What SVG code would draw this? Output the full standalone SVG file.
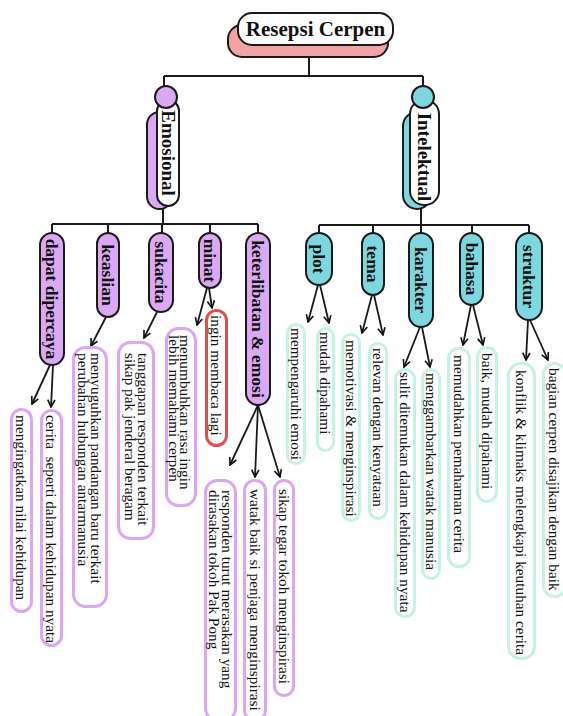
<svg xmlns="http://www.w3.org/2000/svg" width="563" height="716" viewBox="0 0 563 716">
<style>
.conn{fill:none;stroke:#1a1a1a;stroke-width:2}
.arr{fill:none;stroke:#1a1a1a;stroke-width:1.8;marker-end:url(#ah)}
.pp{fill:#DBA8F2;stroke:#1a1a1a;stroke-width:2}
.tp{fill:#7ED7DF;stroke:#1a1a1a;stroke-width:2}
.wp{fill:#ffffff;stroke:#1a1a1a;stroke-width:2}
.lp{fill:#ffffff;stroke:#DCA6F0;stroke-width:3}
.lt{fill:#ffffff;stroke:#C6F1E6;stroke-width:3}
.lr{fill:#ffffff;stroke:#D9524E;stroke-width:3}
.b{font-family:"Liberation Serif",serif;font-weight:bold;font-size:17.5px;fill:#111;text-anchor:middle;dominant-baseline:central}
.h{font-family:"Liberation Serif",serif;font-weight:bold;font-size:19px;fill:#111;text-anchor:middle;dominant-baseline:central}
.t{font-family:"Liberation Serif",serif;font-size:15.3px;fill:#111;dominant-baseline:central}
</style>
<defs>
<marker id="ah" viewBox="0 0 10 10" refX="9" refY="5" markerWidth="9" markerHeight="9" markerUnits="userSpaceOnUse" orient="auto"><path d="M1,1 L9,5 L1,9" fill="none" stroke="#111" stroke-width="1.8"/></marker>
</defs>

<g id="connectors">
<path class="conn" d="M309,57 V76 M164,76 H423 M164,76 V88 M423,76 V88"/>
<path class="conn" d="M163,209 V224 M52,224 H258 M52,224 V233 M108,224 V233 M162,224 V233 M210,224 V233 M258,224 V233"/>
<path class="conn" d="M421,209 V225 M319,225 H529 M319,225 V233 M373,225 V233 M421,225 V233 M472,225 V233 M529,225 V233"/>
<line class="arr" x1="50" y1="365" x2="32" y2="404"/>
<line class="arr" x1="53" y1="365" x2="51" y2="407"/>
<line class="arr" x1="106" y1="317" x2="91" y2="346"/>
<line class="arr" x1="157" y1="312" x2="144" y2="338"/>
<line class="arr" x1="207" y1="288" x2="197" y2="325"/>
<line class="arr" x1="209" y1="288" x2="212" y2="308"/>
<line class="arr" x1="258" y1="405" x2="230" y2="465"/>
<line class="arr" x1="258" y1="405" x2="255" y2="477"/>
<line class="arr" x1="258" y1="405" x2="280" y2="477"/>
<line class="arr" x1="318" y1="285" x2="308" y2="322"/>
<line class="arr" x1="320" y1="285" x2="329" y2="323"/>
<line class="arr" x1="372" y1="295" x2="362" y2="333"/>
<line class="arr" x1="374" y1="295" x2="383" y2="335"/>
<line class="arr" x1="420" y1="327" x2="404" y2="367"/>
<line class="arr" x1="422" y1="327" x2="430" y2="367"/>
<line class="arr" x1="471" y1="305" x2="463" y2="345"/>
<line class="arr" x1="473" y1="305" x2="483" y2="345"/>
<line class="arr" x1="528" y1="320" x2="526" y2="360"/>
<line class="arr" x1="530" y1="320" x2="548" y2="360"/>
</g>

<g id="root">
<rect x="228" y="25" width="160" height="32" rx="14" fill="#F3A3A3" stroke="#1a1a1a" stroke-width="2"/>
<rect x="238" y="13" width="155" height="32" rx="14" class="wp"/>
<text x="315.5" y="29" class="h" style="font-size:21px">Resepsi Cerpen</text>
</g>

<g id="emosional">
<rect x="147" y="112" width="25" height="97" rx="12.5" class="pp"/>
<rect x="157" y="100" width="22" height="106" rx="11" class="wp"/>
<circle cx="166" cy="97" r="11" class="pp"/>
<text class="h" transform="translate(168.5,153) rotate(90)">Emosional</text>
</g>

<g id="intelektual">
<rect x="403" y="112" width="28" height="97" rx="14" class="tp"/>
<rect x="410" y="100" width="29" height="105" rx="14" class="wp"/>
<circle cx="423" cy="97" r="11" class="tp"/>
<text class="h" transform="translate(424.5,157) rotate(90)">Intelektual</text>
</g>

<g id="dapat-dipercaya">
<rect x="40" y="233" width="24" height="132" rx="12" class="pp"/>
<text class="b" transform="translate(52,299) rotate(90)">dapat dipercaya</text>
</g>
<g id="keaslian">
<rect x="97" y="233" width="22" height="84" rx="11" class="pp"/>
<text class="b" transform="translate(108,275) rotate(90)">keaslian</text>
</g>
<g id="sukacita">
<rect x="149" y="233" width="24" height="79" rx="12" class="pp"/>
<text class="b" transform="translate(161,272.5) rotate(90)">sukacita</text>
</g>
<g id="minat">
<rect x="199" y="233" width="22" height="55" rx="11" class="pp"/>
<text class="b" transform="translate(210,260.5) rotate(90)">minat</text>
</g>
<g id="keterlibatan">
<rect x="246" y="233" width="24" height="172" rx="12" class="pp"/>
<text class="b" transform="translate(258,319) rotate(90)">keterlibatan &amp; emosi</text>
</g>

<g id="plot">
<rect x="306" y="233" width="26" height="52" rx="13" class="tp"/>
<text class="b" transform="translate(319,259) rotate(90)">plot</text>
</g>
<g id="tema">
<rect x="362" y="233" width="22" height="62" rx="11" class="tp"/>
<text class="b" transform="translate(373,264) rotate(90)">tema</text>
</g>
<g id="karakter">
<rect x="409" y="233" width="24" height="94" rx="12" class="tp"/>
<text class="b" transform="translate(421,280) rotate(90)">karakter</text>
</g>
<g id="bahasa">
<rect x="460" y="233" width="23" height="72" rx="11.5" class="tp"/>
<text class="b" transform="translate(471.5,269) rotate(90)">bahasa</text>
</g>
<g id="struktur">
<rect x="516" y="233" width="26" height="87" rx="13" class="tp"/>
<text class="b" transform="translate(529,276.5) rotate(90)">struktur</text>
</g>

<g id="leaf-mengingatkan">
<rect x="11.5" y="409.5" width="20" height="202" rx="10" class="lp"/>
<text class="t" transform="translate(21.5,415) rotate(90)">mengingatkan nilai kehidupan</text>
</g>
<g id="leaf-cerita">
<rect x="41.5" y="410.5" width="20" height="235" rx="10" class="lp"/>
<text class="t" transform="translate(51.5,415) rotate(90)" xml:space="preserve">cerita  seperti dalam kehidupan nyata</text>
</g>
<g id="leaf-menyuguhkan">
<rect x="73.5" y="347.5" width="33" height="259" rx="12" class="lp"/>
<text class="t" transform="translate(96.5,353) rotate(90)">menyuguhkan pandangan baru terkait</text>
<text class="t" transform="translate(83.5,353) rotate(90)">perubahan hubungan antarmanusia</text>
</g>
<g id="leaf-tanggapan">
<rect x="118.5" y="342.5" width="35" height="196" rx="12" class="lp"/>
<text class="t" transform="translate(143,353) rotate(90)">tanggapan responden terkait</text>
<text class="t" transform="translate(130.5,353) rotate(90)">sikap pak jenderal beragam</text>
</g>
<g id="leaf-menumbuhkan">
<rect x="166.5" y="328.5" width="29" height="177" rx="12" class="lp"/>
<text class="t" transform="translate(185.5,335) rotate(90)">menumbuhkan rasa ingin</text>
<text class="t" transform="translate(174,335) rotate(90)">lebih memahami cerpen</text>
</g>
<g id="leaf-ingin">
<rect x="206.5" y="310.5" width="20" height="135" rx="10" class="lr"/>
<text class="t" transform="translate(216.5,315) rotate(90)">ingin membaca lagi</text>
</g>
<g id="leaf-responden">
<rect x="205.5" y="480.5" width="30" height="240" rx="12" class="lp"/>
<text class="t" transform="translate(227,490) rotate(90)">responden turut merasakan yang</text>
<text class="t" transform="translate(214.5,490) rotate(90)">dirasakan tokoh Pak Pong</text>
</g>
<g id="leaf-watak">
<rect x="244.5" y="480.5" width="21" height="240" rx="10" class="lp"/>
<text class="t" transform="translate(255,489) rotate(90)">watak baik si penjaga menginspirasi</text>
</g>
<g id="leaf-sikap">
<rect x="274.5" y="480.5" width="19" height="215" rx="9.5" class="lp"/>
<text class="t" transform="translate(284,489) rotate(90)">sikap tegar tokoh menginspirasi</text>
</g>

<g id="leaf-mempengaruhi">
<rect x="287.5" y="324.5" width="17" height="139" rx="8.5" class="lt"/>
<text class="t" transform="translate(296,328) rotate(90)">mempengaruhi emosi</text>
</g>
<g id="leaf-mudah">
<rect x="317.5" y="328.5" width="16" height="122" rx="8" class="lt"/>
<text class="t" transform="translate(325.5,332) rotate(90)">mudah dipahami</text>
</g>
<g id="leaf-memotivasi">
<rect x="342.5" y="334.5" width="17" height="186" rx="8.5" class="lt"/>
<text class="t" transform="translate(351,340) rotate(90)">memotivasi &amp; menginspirasi</text>
</g>
<g id="leaf-relevan">
<rect x="369.5" y="343.5" width="17" height="175" rx="8.5" class="lt"/>
<text class="t" transform="translate(378,348) rotate(90)">relevan dengan kenyataan</text>
</g>
<g id="leaf-sulit">
<rect x="395.5" y="369.5" width="19" height="247" rx="9.5" class="lt"/>
<text class="t" transform="translate(405,372) rotate(90)">sulit ditemukan dalam kehidupan nyata</text>
</g>
<g id="leaf-menggambarkan">
<rect x="422.5" y="369.5" width="17" height="209" rx="8.5" class="lt"/>
<text class="t" transform="translate(431,373) rotate(90)">menggambarkan watak manusia</text>
</g>
<g id="leaf-memudahkan">
<rect x="448.5" y="348.5" width="21" height="218" rx="10" class="lt"/>
<text class="t" transform="translate(459,355) rotate(90)">memudahkan pemahaman cerita</text>
</g>
<g id="leaf-baik">
<rect x="477.5" y="347.5" width="19" height="154" rx="9.5" class="lt"/>
<text class="t" transform="translate(487,353) rotate(90)">baik, mudah dipahami</text>
</g>
<g id="leaf-konflik">
<rect x="508.5" y="363.5" width="26" height="295" rx="12" class="lt"/>
<text class="t" transform="translate(521.5,370) rotate(90)">konflik &amp; klimaks melengkapi keutuhan cerita</text>
</g>
<g id="leaf-bagian">
<rect x="543.5" y="363.5" width="22" height="233" rx="11" class="lt"/>
<text class="t" transform="translate(554.5,368) rotate(90)">bagian cerpen disajikan dengan baik</text>
</g>
</svg>
